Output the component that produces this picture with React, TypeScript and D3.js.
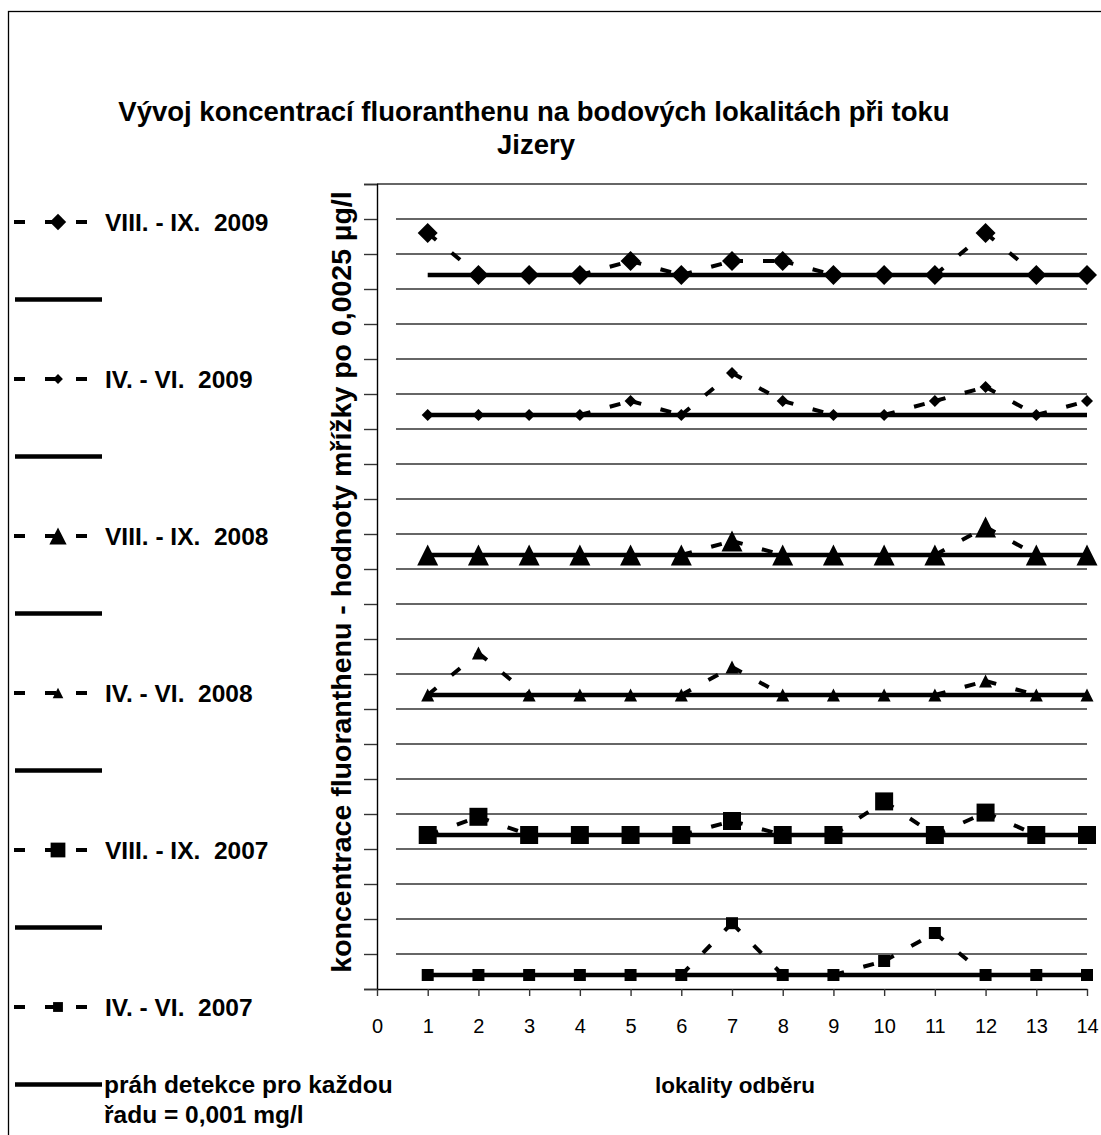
import React, { useEffect, useRef } from "react";
import * as d3 from "d3";

// lokality odběru (sampling sites)
const sites = [1, 2, 3, 4, 5, 6, 7, 8, 9, 10, 11, 12, 13, 14];
const xTicks = [0, 1, 2, 3, 4, 5, 6, 7, 8, 9, 10, 11, 12, 13, 14];

// measured concentrations per campaign (detection limit 0.001)
const ivVi2007 = [0.001, 0.001, 0.001, 0.001, 0.001, 0.001, 0.0047, 0.001, 0.001, 0.002, 0.004, 0.001, 0.001, 0.001];
const viiiIx2007 = [0.001, 0.0023, 0.001, 0.001, 0.001, 0.001, 0.002, 0.001, 0.001, 0.0034, 0.001, 0.0026, 0.001, 0.001];
const ivVi2008 = [0.001, 0.004, 0.001, 0.001, 0.001, 0.001, 0.003, 0.001, 0.001, 0.001, 0.001, 0.002, 0.001, 0.001];
const viiiIx2008 = [0.001, 0.001, 0.001, 0.001, 0.001, 0.001, 0.002, 0.001, 0.001, 0.001, 0.001, 0.003, 0.001, 0.001];
const ivVi2009 = [0.001, 0.001, 0.001, 0.001, 0.002, 0.001, 0.004, 0.002, 0.001, 0.001, 0.002, 0.003, 0.001, 0.002];
const viiiIx2009 = [0.004, 0.001, 0.001, 0.001, 0.002, 0.001, 0.002, 0.002, 0.001, 0.001, 0.001, 0.004, 0.001, 0.001];

const detectionLimit = 0.001;
const seriesOffset = 0.01; // each series shifted up by 4 grid steps
const gridStep = 0.0025;
const gridCount = 23;

const seriesNames = ["IV. - VI.  2007", "VIII. - IX.  2007", "IV. - VI.  2008", "VIII. - IX.  2008", "IV. - VI.  2009", "VIII. - IX.  2009"];
const seriesValues = [ivVi2007, viiiIx2007, ivVi2008, viiiIx2008, ivVi2009, viiiIx2009];
const markerKinds = ["square", "square", "triangle", "triangle", "diamond", "diamond"];
const markerSizes = [12, 18, 13, 21, 12, 20]; // marker width in px

const title1 = "Vývoj koncentrací fluoranthenu na bodových lokalitách při toku";
const title2 = "Jizery";
const yTitle = "koncentrace fluoranthenu - hodnoty mřížky po 0,0025 µg/l";
const xTitle = "lokality odběru";
const limitLabel1 = "práh detekce pro každou";
const limitLabel2 = "řadu = 0,001 mg/l";

const W = 1101;
const H = 1135;
const font = "'Liberation Sans', Arial, sans-serif";

// custom marker shapes (Excel-like, centered on bounding box)
const markerPath = (kind: string, w: number) => {
  const p = d3.path();
  const h = w / 2;
  if (kind === "diamond") {
    p.moveTo(0, -h); p.lineTo(h, 0); p.lineTo(0, h); p.lineTo(-h, 0);
  } else if (kind === "triangle") {
    p.moveTo(0, -h); p.lineTo(h, h); p.lineTo(-h, h);
  } else {
    p.rect(-h, -h, w, w);
  }
  p.closePath();
  return p.toString();
};

const App: React.FC = () => {
  const svgRef = useRef<SVGSVGElement | null>(null);

  useEffect(() => {
    if (!svgRef.current) return;
    const svg = d3.select(svgRef.current);
    svg.selectAll("*").remove();

    const x = d3.scaleLinear().domain([0, 14]).range([377, 1087]);
    const y = d3.scaleLinear().domain([0, gridCount * gridStep]).range([989, 184]);
    const gridValues = d3.range(0, gridCount + 1).map((i) => i * gridStep);

    // outer frame
    svg.append("rect")
      .attr("x", 8.5).attr("y", 11.5).attr("width", 1300).attr("height", 1300)
      .attr("fill", "none").attr("stroke", "#000").attr("stroke-width", 1.3);

    // title
    svg.append("text").attr("x", 534).attr("y", 121).attr("text-anchor", "middle")
      .style("font-family", font).style("font-weight", "bold").style("font-size", "27.5px")
      .text(title1);
    svg.append("text").attr("x", 536).attr("y", 154).attr("text-anchor", "middle")
      .style("font-family", font).style("font-weight", "bold").style("font-size", "27.5px")
      .text(title2);

    // horizontal grid
    svg.append("g").selectAll("line").data(gridValues.slice(1)).enter().append("line")
      .attr("x1", (d) => (d === gridCount * gridStep ? x(0) : 396))
      .attr("x2", x(14))
      .attr("y1", (d) => y(d)).attr("y2", (d) => y(d))
      .attr("stroke", "#333").attr("stroke-width", 1.4);

    // y axis (no labels)
    const yAxis = svg.append("g").attr("transform", `translate(${x(0)},0)`)
      .call(d3.axisLeft(y).tickValues(gridValues).tickSize(13).tickFormat(() => ""));
    yAxis.select(".domain").attr("stroke", "#000").attr("stroke-width", 1.4);
    yAxis.selectAll(".tick line").attr("stroke", "#333").attr("stroke-width", 1.4);

    // x axis
    const xAxis = svg.append("g").attr("transform", `translate(0,${y(0)})`)
      .call(d3.axisBottom(x).tickValues(xTicks).tickSize(7).tickSizeOuter(0).tickPadding(23));
    xAxis.select(".domain").attr("stroke", "#000").attr("stroke-width", 1.4);
    xAxis.selectAll(".tick line").attr("stroke", "#333").attr("stroke-width", 1.4);
    xAxis.selectAll(".tick text")
      .style("font-family", font).style("font-size", "20px").attr("fill", "#000");

    // axis titles
    svg.append("text").attr("transform", "translate(351,582) rotate(-90)")
      .attr("text-anchor", "middle")
      .style("font-family", font).style("font-weight", "bold").style("font-size", "28.5px")
      .text(yTitle);
    svg.append("text").attr("x", 735).attr("y", 1093).attr("text-anchor", "middle")
      .style("font-family", font).style("font-weight", "bold").style("font-size", "22.5px")
      .text(xTitle);

    // detection limit lines
    svg.append("g").selectAll("line").data(seriesValues).enter().append("line")
      .attr("x1", x(sites[0])).attr("x2", x(sites[sites.length - 1]))
      .attr("y1", (_d, i) => y(i * seriesOffset + detectionLimit))
      .attr("y2", (_d, i) => y(i * seriesOffset + detectionLimit))
      .attr("stroke", "#000").attr("stroke-width", 4.5);

    // dashed series lines, dash pattern restarts on every segment
    seriesValues.forEach((vals, k) => {
      const pts = vals.map((v, i) => [x(sites[i]), y(k * seriesOffset + v)]);
      svg.append("g").selectAll("line").data(d3.pairs(pts)).enter().append("line")
        .attr("x1", (d) => d[0][0]).attr("y1", (d) => d[0][1])
        .attr("x2", (d) => d[1][0]).attr("y2", (d) => d[1][1])
        .attr("stroke", "#000").attr("stroke-width", 4)
        .attr("stroke-dasharray", "11 20");
      svg.append("g").selectAll("path").data(pts).enter().append("path")
        .attr("transform", (d) => `translate(${d[0]},${d[1]})`)
        .attr("d", markerPath(markerKinds[k], markerSizes[k]))
        .attr("fill", "#000");
    });

    // legend: series entry, then its detection line, from the top
    const legendStep = 78.5;
    const legend = svg.append("g");
    for (let j = 0; j < seriesNames.length; j++) {
      const k = seriesNames.length - 1 - j;
      const yS = 222 + j * 2 * legendStep;
      const yL = yS + legendStep - 1;
      legend.append("line").attr("x1", 14).attr("x2", 87).attr("y1", yS).attr("y2", yS)
        .attr("stroke", "#000").attr("stroke-width", 4).attr("stroke-dasharray", "11 20");
      legend.append("path").attr("transform", `translate(58,${yS})`)
        .attr("d", markerPath(markerKinds[k], markerSizes[k] * 0.82)).attr("fill", "#000");
      legend.append("text").attr("x", 105).attr("y", yS + 8.5)
        .style("font-family", font).style("font-weight", "bold").style("font-size", "24.5px")
        .style("white-space", "pre")
        .text(seriesNames[k]);
      legend.append("line").attr("x1", 15).attr("x2", 102).attr("y1", yL).attr("y2", yL)
        .attr("stroke", "#000").attr("stroke-width", 4.5);
    }
    const yLast = 222 + 11 * legendStep - 1;
    legend.append("text").attr("x", 104).attr("y", yLast + 8.5)
      .style("font-family", font).style("font-weight", "bold").style("font-size", "24.5px")
      .text(limitLabel1);
    legend.append("text").attr("x", 104).attr("y", yLast + 38)
      .style("font-family", font).style("font-weight", "bold").style("font-size", "24.5px")
      .text(limitLabel2);
  }, []);

  return (
    <div style={{ position: "absolute", left: 0, top: 0 }}>
      <svg ref={svgRef} width={W} height={H} style={{ display: "block", background: "#fff" }}></svg>
    </div>
  );
};

export default App;
